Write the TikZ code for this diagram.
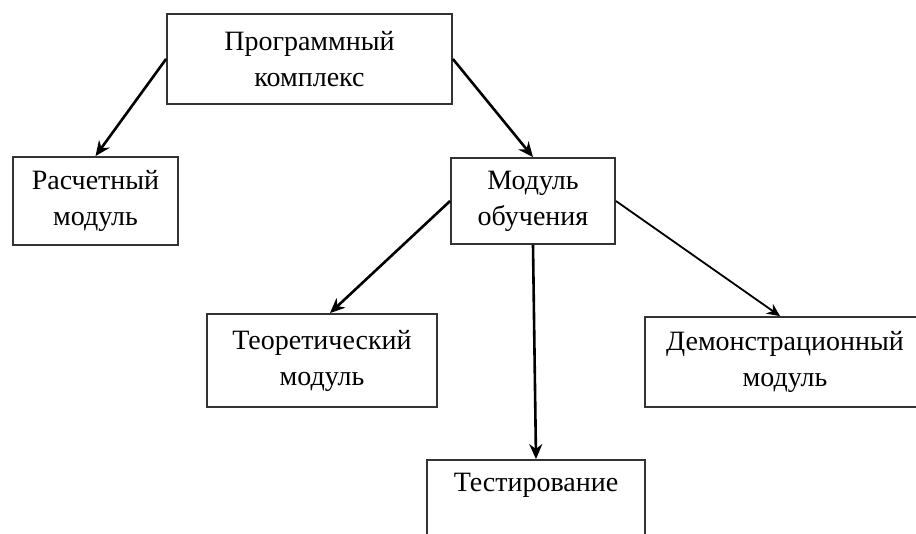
\documentclass[tikz,border=0pt]{standalone}
\usepackage{fontspec}
\setmainfont{Liberation Serif}
\usetikzlibrary{arrows.meta}
\begin{document}
\begin{tikzpicture}[x=1pt,y=-1pt,
  box/.style={draw=black!80, line width=1.8pt, fill=white, align=center,
    inner sep=0pt, font=\fontsize{28}{36}\selectfont},
  link/.style={draw=black, line width=2.6pt, -{Stealth[length=15pt,width=13pt]}},
  thinlink/.style={draw=black, line width=1.8pt, -{Stealth[length=13pt,width=12pt]}}]
\clip (0,0) rectangle (916,534);
\fill[white] (0,0) rectangle (916,534);

\node[box, minimum width=285pt, minimum height=90pt] (top) at (309.5,59) {Программный\\комплекс};
\node[box, minimum width=165pt, minimum height=88pt] (calc) at (95.5,201) {Расчетный\\модуль};
\node[box, minimum width=164pt, minimum height=86pt] (learn) at (533,201) {Модуль\\обучения};
\node[box, minimum width=230pt, minimum height=93pt] (theory) at (322,360.5) {Теоретический\\модуль};
% this box runs past the right margin; its text is set a little left of centre
\node[box, minimum width=310pt, minimum height=90pt] (demo) at (800,362)
  {\hspace*{-30pt}Демонстрационный\\\hspace*{-30pt}модуль};
\node[box, minimum width=218pt, minimum height=92pt] (test) at (536,506) {Тестирование\\\strut};

\draw[link] (top.west) -- (calc.north);
\draw[link] (top.east) -- (learn.north);
\draw[link] (learn.west) -- ([xshift=8pt]theory.north);
\draw[link] (learn.south) -- (test.north);
\draw[thinlink] (learn.east) -- ([xshift=-20pt]demo.north);
\end{tikzpicture}
\end{document}
